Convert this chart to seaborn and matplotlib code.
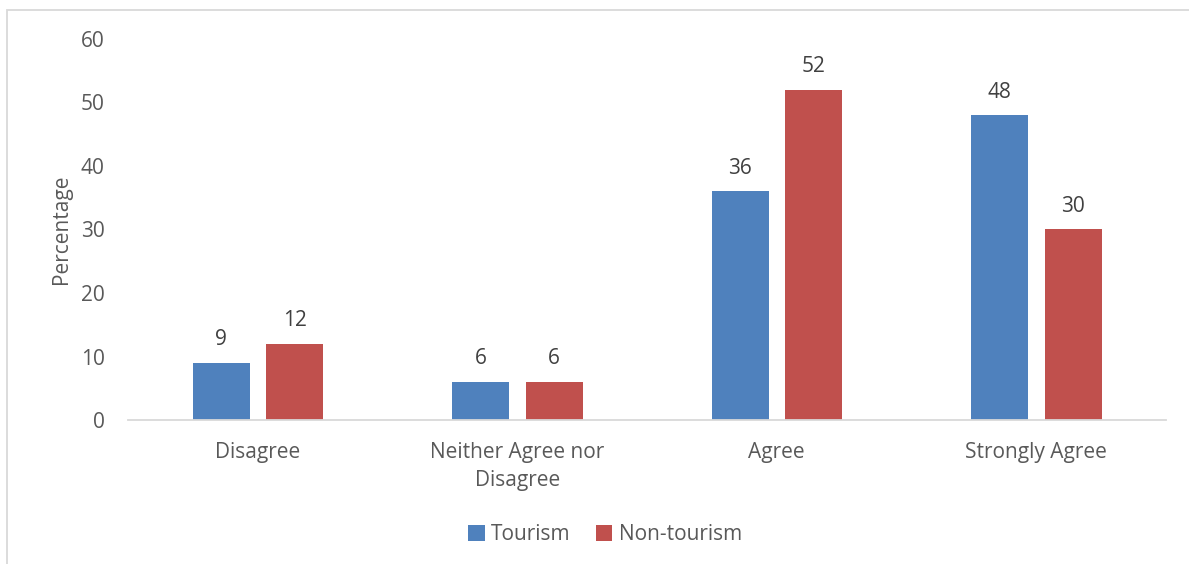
import matplotlib
matplotlib.use("Agg")
import matplotlib.pyplot as plt
from matplotlib.patches import Rectangle
import seaborn as sns
import pandas as pd

categories = ["Disagree", "Neither Agree nor\nDisagree", "Agree", "Strongly Agree"]
series_names = ["Tourism", "Non-tourism"]
tourism = [9, 6, 36, 48]
non_tourism = [12, 6, 52, 30]
y_ticks = [0, 10, 20, 30, 40, 50, 60]

colors = {"Tourism": "#4F81BD", "Non-tourism": "#C0504D"}
text_color = "#595959"
fs = 15

df = pd.DataFrame({
    "category": categories * 2,
    "group": [series_names[0]] * 4 + [series_names[1]] * 4,
    "value": tourism + non_tourism,
})

sns.set_theme(style="white")
plt.rcParams["font.family"] = ["Open Sans", "DejaVu Sans"]

fig = plt.figure(figsize=(11.89, 5.64), dpi=100)
ax = fig.add_axes([0.1077, 0.2553, 0.8730, 0.6756])

sns.barplot(data=df, x="category", y="value", hue="group", order=categories,
            hue_order=series_names, palette=colors, width=0.566, gap=0.224,
            saturation=1, linewidth=0, ax=ax, legend=True)

for cont in ax.containers:
    ax.bar_label(cont, labels=[f"{v:g}" for v in cont.datavalues], padding=9,
                 fontsize=fs, color="#404040")

ax.set_xlim(-0.5, 3.5)
ax.set_ylim(0, 60)
ax.set_yticks(y_ticks)
ax.set_yticklabels([str(t) for t in y_ticks])
ax.tick_params(axis="y", length=0, pad=17, labelsize=fs, labelcolor=text_color)
ax.tick_params(axis="x", length=0, pad=16, labelsize=fs, labelcolor=text_color)
for lbl in ax.get_xticklabels():
    lbl.set_linespacing(1.45)
ax.set_xlabel("")
ax.set_ylabel("Percentage", fontsize=fs, color=text_color, labelpad=6)

for side in ["top", "right", "left"]:
    ax.spines[side].set_visible(False)
ax.spines["bottom"].set_color("#D9D9D9")
ax.spines["bottom"].set_linewidth(1.3)

leg = ax.legend(loc="center", bbox_to_anchor=(605 / 1189, 1 - 535 / 564),
                bbox_transform=fig.transFigure, ncol=2, frameon=False,
                fontsize=fs, handlelength=0.8, handleheight=0.8,
                handletextpad=0.3, columnspacing=1.2)
for t in leg.get_texts():
    t.set_color(text_color)

# Chart-area frame
fig.patches.append(Rectangle((7 / 1189, -0.1), 1.2, 1 - 10 / 564 + 0.1,
                             transform=fig.transFigure, fill=False,
                             edgecolor="#D9D9D9", linewidth=1.3))

fig.savefig("out.png", dpi=100, facecolor="white")
